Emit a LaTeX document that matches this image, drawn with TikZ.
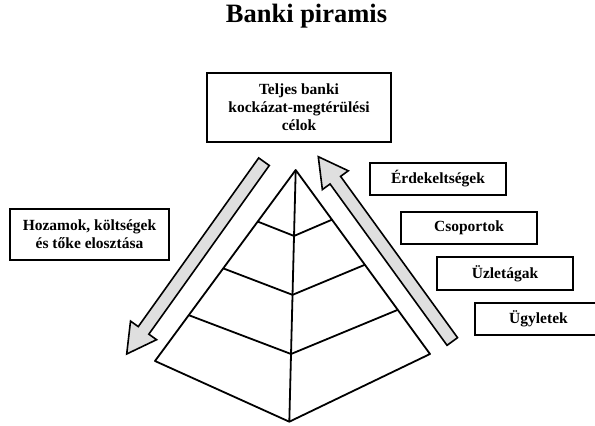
\documentclass[tikz,border=0pt]{standalone}
\usepackage{fontspec}
\setmainfont{Liberation Serif}
\usetikzlibrary{calc}

\tikzset{
  label box/.style={draw, line width=2pt, align=center, inner sep=2pt,
    font=\bfseries\fontsize{15.5}{18}\selectfont},
  block/.style={draw, line width=1.6pt, fill=gray!25, line join=miter},
  pyr/.style={line width=1.8pt, line join=round}
}

% thick gray arrow from #1 (tail) to #2 (tip)
\newcommand{\blockarrow}[2]{%
  \coordinate (hb) at ($(#2)!29pt!(#1)$);
  \draw[block] ($(#1)!6.5pt!90:(#2)$) -- ($(hb)!6.5pt!90:(#2)$) -- ($(hb)!16pt!90:(#2)$)
    -- (#2) -- ($(hb)!16pt!-90:(#2)$) -- ($(hb)!6.5pt!-90:(#2)$) -- ($(#1)!6.5pt!-90:(#2)$) -- cycle;}

\begin{document}
\begin{tikzpicture}[x=1pt,y=-1pt]
\useasboundingbox (0,0) rectangle (595,426);

\node[font=\bfseries\fontsize{26.5}{30}\selectfont, anchor=base] (title) at (306.5,22.7) {Banki piramis};

% pyramid
\coordinate (apex) at (295.7,170);
\coordinate (left) at (155,361);
\coordinate (bottom) at (289.3,421.7);
\coordinate (right) at (430,354);
\draw[pyr] (apex) -- (left) -- (bottom) -- (right) -- cycle;
\draw[pyr] (apex) -- (bottom);
\foreach \i/\t/\c in {1/0.27/0.262, 2/0.515/0.496, 3/0.76/0.731}{
  \coordinate (l\i) at ($(apex)!\t!(left)$);
  \coordinate (r\i) at ($(apex)!\t!(right)$);
  \coordinate (c\i) at ($(apex)!\c!(bottom)$);
  \draw[pyr] (l\i) -- (c\i) -- (r\i);
}

% arrows
\coordinate (down tail) at (264,161.7);
\coordinate (down tip) at (126.7,354);
\coordinate (up tail) at (452.3,341.5);
\coordinate (up tip) at (318.3,156.7);
\blockarrow{down tail}{down tip}
\blockarrow{up tail}{up tip}

% boxes
\node[label box, minimum width=184pt, minimum height=69pt] (goals) at (299,107.5) {Teljes banki\\kockázat-megtérülési\\célok};
\node[label box, minimum width=159pt, minimum height=51pt] (alloc) at (89.5,234.5) {Hozamok, költségek\\és tőke elosztása};
\node[label box, minimum width=136pt, minimum height=32pt] (interests) at (438,179) {Érdekeltségek};
\node[label box, minimum width=136pt, minimum height=32pt] (groups) at (469,228) {Csoportok};
\node[label box, minimum width=136pt, minimum height=33pt] (lines) at (505,273.5) {Üzletágak};
\node[label box, minimum width=127pt, minimum height=32pt] (deals) at (538.5,319) {Ügyletek};
\end{tikzpicture}
\end{document}
